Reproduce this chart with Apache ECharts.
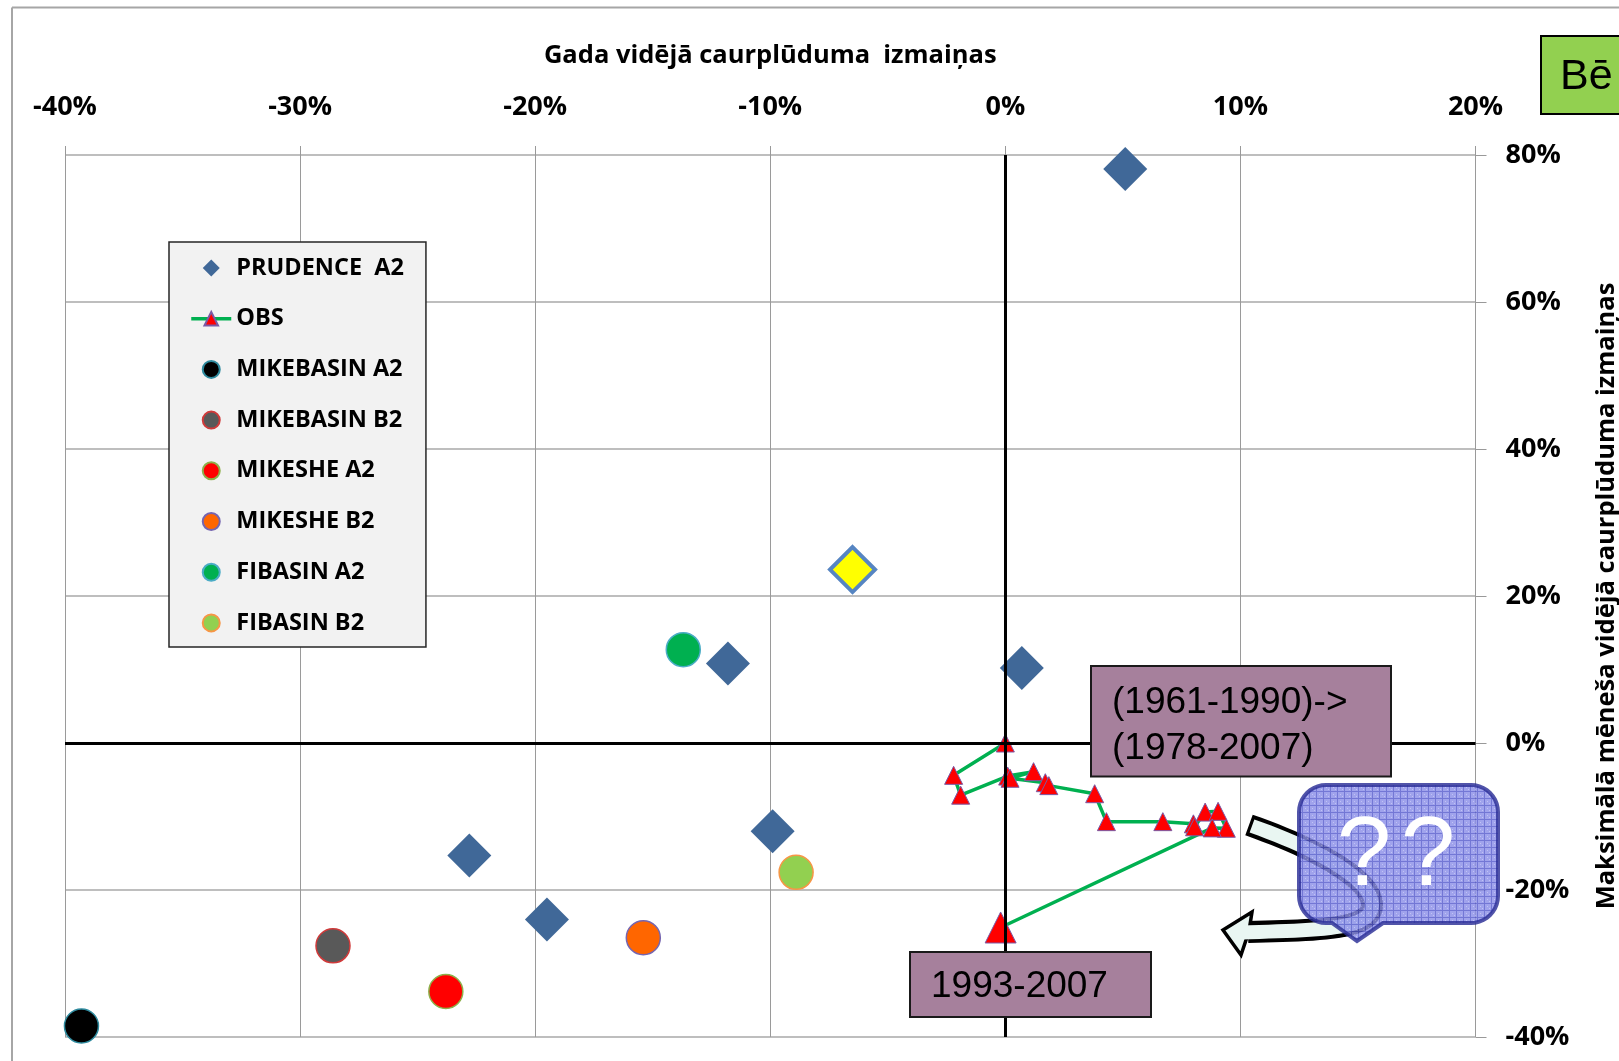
<!DOCTYPE html>
<html><head><meta charset="utf-8">
<script src="https://cdn.jsdelivr.net/npm/echarts@6/dist/echarts.min.js"></script>
<style>html,body{margin:0;padding:0;background:#fff;}#c{width:1619px;height:1061px;}</style>
</head><body><div id="c"></div>
<script>
// ---- data (percent changes) ----
const xAxisTitle = 'Gada vidējā caurplūduma  izmaiņas';
const yAxisTitle = 'Maksimālā mēneša vidējā caurplūduma izmaiņas';
const seriesNames = ['PRUDENCE  A2', 'OBS', 'MIKEBASIN A2', 'MIKEBASIN B2', 'MIKESHE A2', 'MIKESHE B2', 'FIBASIN A2', 'FIBASIN B2'];
const prudenceX = [5.1, -11.8, 0.7, -9.9, -22.8, -19.5];
const prudenceY = [78.1, 10.8, 10.2, -12.0, -15.3, -24.0];
const prudenceMeanX = [-6.5];
const prudenceMeanY = [23.6];
const obsX = [0, -2.2, -1.9, 0.1, 1.2, 0.2, 1.7, 1.85, 3.8, 4.3, 6.7, 8.0, 8.05, 8.5, 9.05, 9.4, 8.8, -0.2];
const obsY = [0, -4.4, -7.1, -4.5, -3.9, -4.8, -5.4, -5.8, -6.9, -10.7, -10.7, -11.0, -11.4, -9.4, -9.3, -11.6, -11.55, -25.1];
const mikebasinA2X = [-39.3], mikebasinA2Y = [-38.5];
const mikebasinB2X = [-28.6], mikebasinB2Y = [-27.6];
const mikesheA2X = [-23.8], mikesheA2Y = [-33.8];
const mikesheB2X = [-15.4], mikesheB2Y = [-26.5];
const fibasinA2X = [-13.7], fibasinA2Y = [12.7];
const fibasinB2X = [-8.9], fibasinB2Y = [-17.6];
const boxLabel1 = ['(1961-1990)->', '(1978-2007)'];
const boxLabel2 = '1993-2007';
const cornerLabel = 'Bē';

const zip = (xs, ys) => xs.map((x, i) => [x, ys[i]]);
const FONT = '"Open Sans"';

const chart = echarts.init(document.getElementById('c'), null, {renderer: 'canvas'});

// pattern for the speech bubble
const pc = document.createElement('canvas'); pc.width = 7; pc.height = 7;
const g = pc.getContext('2d');
g.fillStyle = '#8C8FE8'; g.fillRect(0, 0, 7, 7);
g.fillStyle = '#5559CC'; g.fillRect(0, 0, 7, 1); g.fillRect(0, 0, 1, 7);
g.fillStyle = '#B3B5F2'; g.fillRect(3, 3, 1, 1); g.fillRect(5, 5, 1, 1);

// helpers for decorative shapes
function cubic(p0, p1, p2, p3, n) {
  const pts = [];
  for (let i = 0; i <= n; i++) {
    const t = i / n, u = 1 - t;
    pts.push([u*u*u*p0[0] + 3*u*u*t*p1[0] + 3*u*t*t*p2[0] + t*t*t*p3[0],
              u*u*u*p0[1] + 3*u*u*t*p1[1] + 3*u*t*t*p2[1] + t*t*t*p3[1]]);
  }
  return pts;
}
function arcPts(cx, cy, r, a0, a1, n) {
  const pts = [];
  for (let i = 0; i <= n; i++) { const a = a0 + (a1 - a0) * i / n; pts.push([cx + r*Math.cos(a), cy + r*Math.sin(a)]); }
  return pts;
}
function arrowPath(start, end) {
  const a = cubic(start, [1320, 850], [1372, 880], [1372, 905], 24);
  const b = cubic([1372, 905], [1372, 930], [1320, 930], end, 24);
  return a.concat(b.slice(1));
}
function bubblePts() {
  const L = 1299, R = 1498, T = 785, B = 923, r = 27, P = Math.PI;
  let pts = [];
  pts = pts.concat(arcPts(R - r, T + r, r, -P/2, 0, 10));
  pts = pts.concat(arcPts(R - r, B - r, r, 0, P/2, 10));
  pts.push([1383, B], [1357, 941], [1332, B]);
  pts = pts.concat(arcPts(L + r, B - r, r, P/2, P, 10));
  pts = pts.concat(arcPts(L + r, T + r, r, P, 1.5*P, 10));
  return pts;
}

function circleSeries(name, xs, ys, fill, border) {
  return {
    type: 'scatter', name: name, data: zip(xs, ys), symbol: 'circle', symbolSize: 34, z: 3,
    itemStyle: {color: fill, borderColor: border, borderWidth: 1.5, opacity: 1}
  };
}

const obsData = zip(obsX, obsY).map((p, i) => i === obsX.length - 1 ? {value: p, symbolSize: 31} : p);

const legendData = seriesNames.map((n, i) => {
  if (i === 0) return {name: n, icon: 'path://M50,0 L100,50 L50,100 L0,50 Z'};
  if (i === 1) return {name: n, lineStyle: {width: 3.5, color: '#00B050'}};
  return {name: n};
});

const option = {
  animation: false,
  backgroundColor: '#ffffff',
  grid: {left: 65, right: 143.5, top: 155, bottom: 24, containLabel: false, outerBoundsMode: 'none'},
  xAxis: {
    type: 'value', position: 'top', min: -40, max: 20, interval: 10,
    name: xAxisTitle, nameLocation: 'middle', nameGap: 86,
    nameTextStyle: {fontFamily: FONT, fontWeight: 'bold', fontSize: 25.5, color: '#000'},
    axisLine: {show: false, onZero: false},
    axisTick: {show: true, inside: false, length: 9, lineStyle: {color: '#999', width: 1}},
    axisLabel: {formatter: '{value}%', fontFamily: FONT, fontWeight: 'bold', fontSize: 27, color: '#000', margin: 34},
    splitLine: {show: true, lineStyle: {color: '#9a9a9a', width: 1}}
  },
  yAxis: {
    type: 'value', position: 'right', min: -40, max: 80, interval: 20,
    name: yAxisTitle, nameLocation: 'middle', nameGap: 118, nameRotate: 90,
    nameTextStyle: {fontFamily: FONT, fontWeight: 'bold', fontSize: 25.5, color: '#000'},
    axisLine: {show: false, onZero: false},
    axisTick: {show: true, inside: false, length: 11, lineStyle: {color: '#999', width: 1}},
    axisLabel: {formatter: '{value}%', fontFamily: FONT, fontWeight: 'bold', fontSize: 27, color: '#000', margin: 30, align: 'left'},
    splitLine: {show: true, lineStyle: {color: '#a8a8a8', width: 1.5}}
  },
  legend: {
    data: legendData, orient: 'vertical', left: 169, top: 242,
    backgroundColor: '#F2F2F2', borderColor: '#262626', borderWidth: 1.5, borderRadius: 0,
    padding: [14, 22, 12, 20.5], itemWidth: 40, itemHeight: 17, itemGap: 26.7, symbolKeepAspect: true,
    textStyle: {fontFamily: FONT, fontWeight: 'bold', fontSize: 23.5, color: '#000', lineHeight: 24},
    selectedMode: false
  },
  series: [
    {
      type: 'line', name: 'zero', data: [], z: 1, silent: true,
      markLine: {silent: true, symbol: 'none', label: {show: false}, animation: false,
        lineStyle: {color: '#000', width: 3, type: 'solid'},
        emphasis: {disabled: true},
        data: [{xAxis: 0}, {yAxis: 0}]}
    },
    {
      type: 'scatter', name: seriesNames[0], data: zip(prudenceX, prudenceY), symbol: 'diamond', symbolSize: 44, z: 3,
      itemStyle: {color: '#406898', opacity: 1}
    },
    {
      type: 'scatter', name: 'PRUDENCE mean', data: zip(prudenceMeanX, prudenceMeanY), symbol: 'diamond', symbolSize: 45, z: 3,
      itemStyle: {color: '#FFFF00', borderColor: '#5685C2', borderWidth: 4, opacity: 1}
    },
    {
      type: 'line', name: seriesNames[1], data: obsData, symbol: 'triangle', symbolSize: 18, z: 4,
      lineStyle: {color: '#00B050', width: 3.5},
      itemStyle: {color: '#FF0000', borderColor: '#7A5AA6', borderWidth: 1},
      showAllSymbol: true
    },
    circleSeries(seriesNames[2], mikebasinA2X, mikebasinA2Y, '#000000', '#2E8A9E'),
    circleSeries(seriesNames[3], mikebasinB2X, mikebasinB2Y, '#595959', '#D03A3A'),
    circleSeries(seriesNames[4], mikesheA2X, mikesheA2Y, '#FF0000', '#8DB04A'),
    circleSeries(seriesNames[5], mikesheB2X, mikesheB2Y, '#FF6600', '#7565B0'),
    circleSeries(seriesNames[6], fibasinA2X, fibasinA2Y, '#00B050', '#4BACC6'),
    circleSeries(seriesNames[7], fibasinB2X, fibasinB2Y, '#92D050', '#F79646')
  ],
  graphic: {elements: [
    // slide frame
    {type: 'line', z: 50, shape: {x1: 12, y1: 7.5, x2: 1619, y2: 7.5}, style: {stroke: '#A6A6A6', lineWidth: 2}},
    {type: 'line', z: 50, shape: {x1: 12, y1: 7.5, x2: 12, y2: 1061}, style: {stroke: '#A6A6A6', lineWidth: 2}},
    // corner label
    {type: 'rect', z: 60, shape: {x: 1541, y: 36, width: 100, height: 78}, style: {fill: '#92D050', stroke: '#000', lineWidth: 2}},
    {type: 'text', z: 61, style: {text: cornerLabel, x: 1560, y: 77, verticalAlign: 'middle', font: '43px "Liberation Sans", Arial, sans-serif', fill: '#000'}},
    // box 1
    {type: 'rect', z: 60, shape: {x: 1091, y: 666, width: 300, height: 110.5}, style: {fill: '#A6809C', stroke: '#1a1a1a', lineWidth: 2}},
    {type: 'text', z: 61, style: {text: boxLabel1[0], x: 1112, y: 703, verticalAlign: 'middle', font: '37px "Liberation Sans", Arial, sans-serif', fill: '#000'}},
    {type: 'text', z: 61, style: {text: boxLabel1[1], x: 1112, y: 748.5, verticalAlign: 'middle', font: '37px "Liberation Sans", Arial, sans-serif', fill: '#000'}},
    // box 2
    {type: 'rect', z: 60, shape: {x: 910, y: 952, width: 241, height: 65}, style: {fill: '#A6809C', stroke: '#1a1a1a', lineWidth: 2}},
    {type: 'text', z: 61, style: {text: boxLabel2, x: 931, y: 987, verticalAlign: 'middle', font: '37px "Liberation Sans", Arial, sans-serif', fill: '#000'}},
    // curved arrow
    {type: 'polyline', z: 62, shape: {points: arrowPath([1249, 825], [1248, 932])},
      style: {fill: null, stroke: '#000', lineWidth: 22, lineCap: 'butt', lineJoin: 'round'}},
    {type: 'polygon', z: 63, shape: {points: [[1223, 930], [1252, 912], [1249, 931], [1241, 955]]},
      style: {fill: '#E9F6F2', stroke: '#000', lineWidth: 3.5, lineJoin: 'miter'}},
    {type: 'polyline', z: 64, shape: {points: arrowPath([1252, 826], [1240, 932.5])},
      style: {fill: null, stroke: '#E9F6F2', lineWidth: 14, lineCap: 'butt', lineJoin: 'round'}},
    // speech bubble
    {type: 'polygon', z: 70, shape: {points: bubblePts()},
      style: {fill: {image: pc, repeat: 'repeat'}, stroke: '#2B2E96', lineWidth: 4, opacity: 0.82}},
    {type: 'text', z: 71, style: {text: '?', x: 1364, y: 858, align: 'center', verticalAlign: 'middle', font: '98px "Liberation Sans", Arial, sans-serif', fill: '#ffffff'}},
    {type: 'text', z: 71, style: {text: '?', x: 1428, y: 858, align: 'center', verticalAlign: 'middle', font: '98px "Liberation Sans", Arial, sans-serif', fill: '#ffffff'}}
  ]}
};
chart.setOption(option);
</script></body></html>
